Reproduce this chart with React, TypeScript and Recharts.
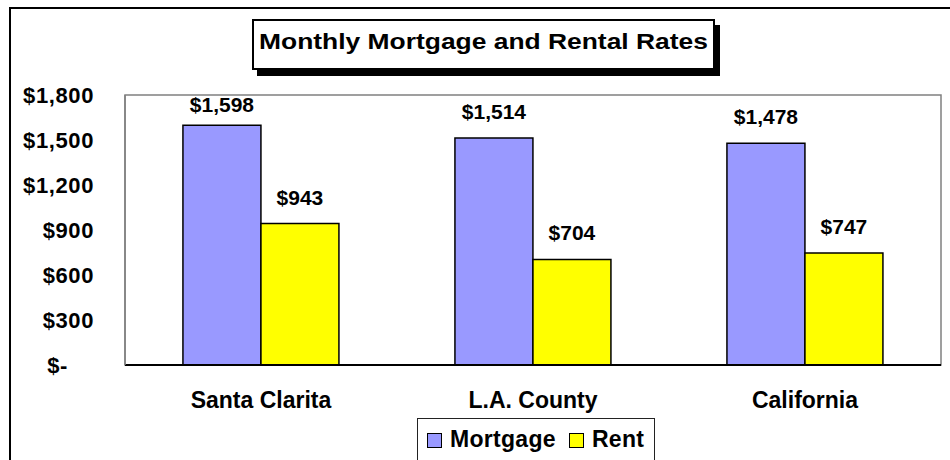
import React from 'react';
import { BarChart, Bar, XAxis, YAxis, Legend, LabelList, ReferenceArea } from 'recharts';

const categories = ['Santa Clarita', 'L.A. County', 'California'];
const mortgage = [1598, 1514, 1478];
const rent = [943, 704, 747];
const yTicks = [0, 300, 600, 900, 1200, 1500, 1800];
const seriesNames = ['Mortgage', 'Rent'];
const seriesColors = ['#9999FF', '#FFFF00'];
const title = 'Monthly Mortgage and Rental Rates';

const data = categories.map((c, i) => ({ category: c, mortgage: mortgage[i], rent: rent[i] }));

const FONT = '"Liberation Sans", Arial, Helvetica, sans-serif';
const PLOT_TOP = 95;

const fmt = (v: number) => (v === 0 ? '$-' : '$' + v.toLocaleString('en-US'));

const YTick = (props: any) => {
  const { x, y, payload } = props;
  const v = payload.value;
  return (
    <text
      x={v === 0 ? x - 26 : x}
      y={y}
      dy="0.355em"
      textAnchor="end"
      fill="#000"
      fontSize={22}
      fontWeight="bold"
      fontFamily={FONT}
      letterSpacing={0.6}
    >
      {fmt(v)}
    </text>
  );
};

const renderLabel = (props: any) => {
  const { x, y, width, value } = props;
  const ty = Math.max(Number(y) - 19, PLOT_TOP + 17);
  return (
    <text
      x={Number(x) + Number(width) / 2}
      y={ty}
      textAnchor="middle"
      fill="#000"
      fontSize={21}
      fontWeight="bold"
      fontFamily={FONT}
    >
      {fmt(Number(value))}
    </text>
  );
};

const LegendBox = (props: any) => {
  const payload = props.payload || [];
  return (
    <div
      style={{
        width: 238,
        height: 60,
        boxSizing: 'border-box',
        border: '1px solid #222',
        background: '#fff',
        display: 'flex',
        alignItems: 'center',
        paddingLeft: 9,
        paddingBottom: 18,
        fontFamily: FONT,
        fontWeight: 'bold',
        fontSize: 23,
        color: '#000',
      }}
    >
      {payload.map((p: any, i: number) => (
        <div key={i} style={{ display: 'flex', alignItems: 'center', marginRight: 13 }}>
          <span
            style={{
              display: 'inline-block',
              width: 15,
              height: 15,
              boxSizing: 'border-box',
              border: '1.5px solid #000',
              background: p.color,
              marginRight: 8,
              marginTop: 3,
            }}
          />
          <span style={{ lineHeight: '23px', letterSpacing: 0.3 }}>{p.value}</span>
        </div>
      ))}
    </div>
  );
};

export default function App() {
  return (
    <div
      style={{
        position: 'absolute',
        left: 0,
        top: 0,
        width: 950,
        height: 460,
        overflow: 'hidden',
        background: '#fff',
        fontFamily: FONT,
      }}
    >
      <BarChart
        width={950}
        height={460}
        data={data}
        margin={{ top: PLOT_TOP, right: 9, left: 0, bottom: 35 }}
        barCategoryGap="21.3%"
        barGap={0}
      >
        <ReferenceArea
          y1={0}
          y2={1800}
          fill="none"
          stroke="#808080"
          strokeWidth={1.5}
          ifOverflow="visible"
        />
        <XAxis
          dataKey="category"
          height={60}
          tickLine={false}
          tickSize={0}
          tickMargin={27}
          axisLine={{ stroke: '#000', strokeWidth: 2 }}
          tick={{ fill: '#000', fontSize: 23, fontWeight: 'bold', fontFamily: FONT }}
          interval={0}
        />
        <YAxis
          width={125}
          domain={[0, 1800]}
          ticks={yTicks}
          interval={0}
          tickLine={false}
          tickSize={0}
          tickMargin={31}
          axisLine={{ stroke: '#808080', strokeWidth: 1.5 }}
          tick={<YTick />}
        />
        <Legend
          layout="horizontal"
          verticalAlign="middle"
          align="center"
          content={<LegendBox />}
          wrapperStyle={{ position: 'absolute', left: 417, top: 418, width: 238, height: 60 }}
        />
        <Bar
          dataKey="mortgage"
          name={seriesNames[0]}
          fill={seriesColors[0]}
          stroke="#000"
          strokeWidth={1.5}
          isAnimationActive={false}
        >
          <LabelList dataKey="mortgage" content={renderLabel} />
        </Bar>
        <Bar
          dataKey="rent"
          name={seriesNames[1]}
          fill={seriesColors[1]}
          stroke="#000"
          strokeWidth={1.5}
          isAnimationActive={false}
        >
          <LabelList dataKey="rent" content={renderLabel} />
        </Bar>
      </BarChart>

      <div
        style={{
          position: 'absolute',
          left: 9,
          top: 7,
          width: 2000,
          height: 2000,
          borderTop: '2px solid #000',
          borderLeft: '2px solid #000',
          pointerEvents: 'none',
        }}
      />

      <div
        style={{
          position: 'absolute',
          left: 252,
          top: 19,
          width: 463,
          height: 51,
          boxSizing: 'border-box',
          border: '2px solid #000',
          background: '#fff',
          boxShadow: '5px 6px 0 #000',
        }}
      >
        <div
          style={{
            position: 'absolute',
            left: 0,
            right: 0,
            top: 10,
            textAlign: 'center',
            fontFamily: FONT,
            fontWeight: 'bold',
            fontSize: 22,
            lineHeight: '22px',
            color: '#000',
            whiteSpace: 'nowrap',
            transform: 'scaleX(1.2)',
          }}
        >
          {title}
        </div>
      </div>
    </div>
  );
}
